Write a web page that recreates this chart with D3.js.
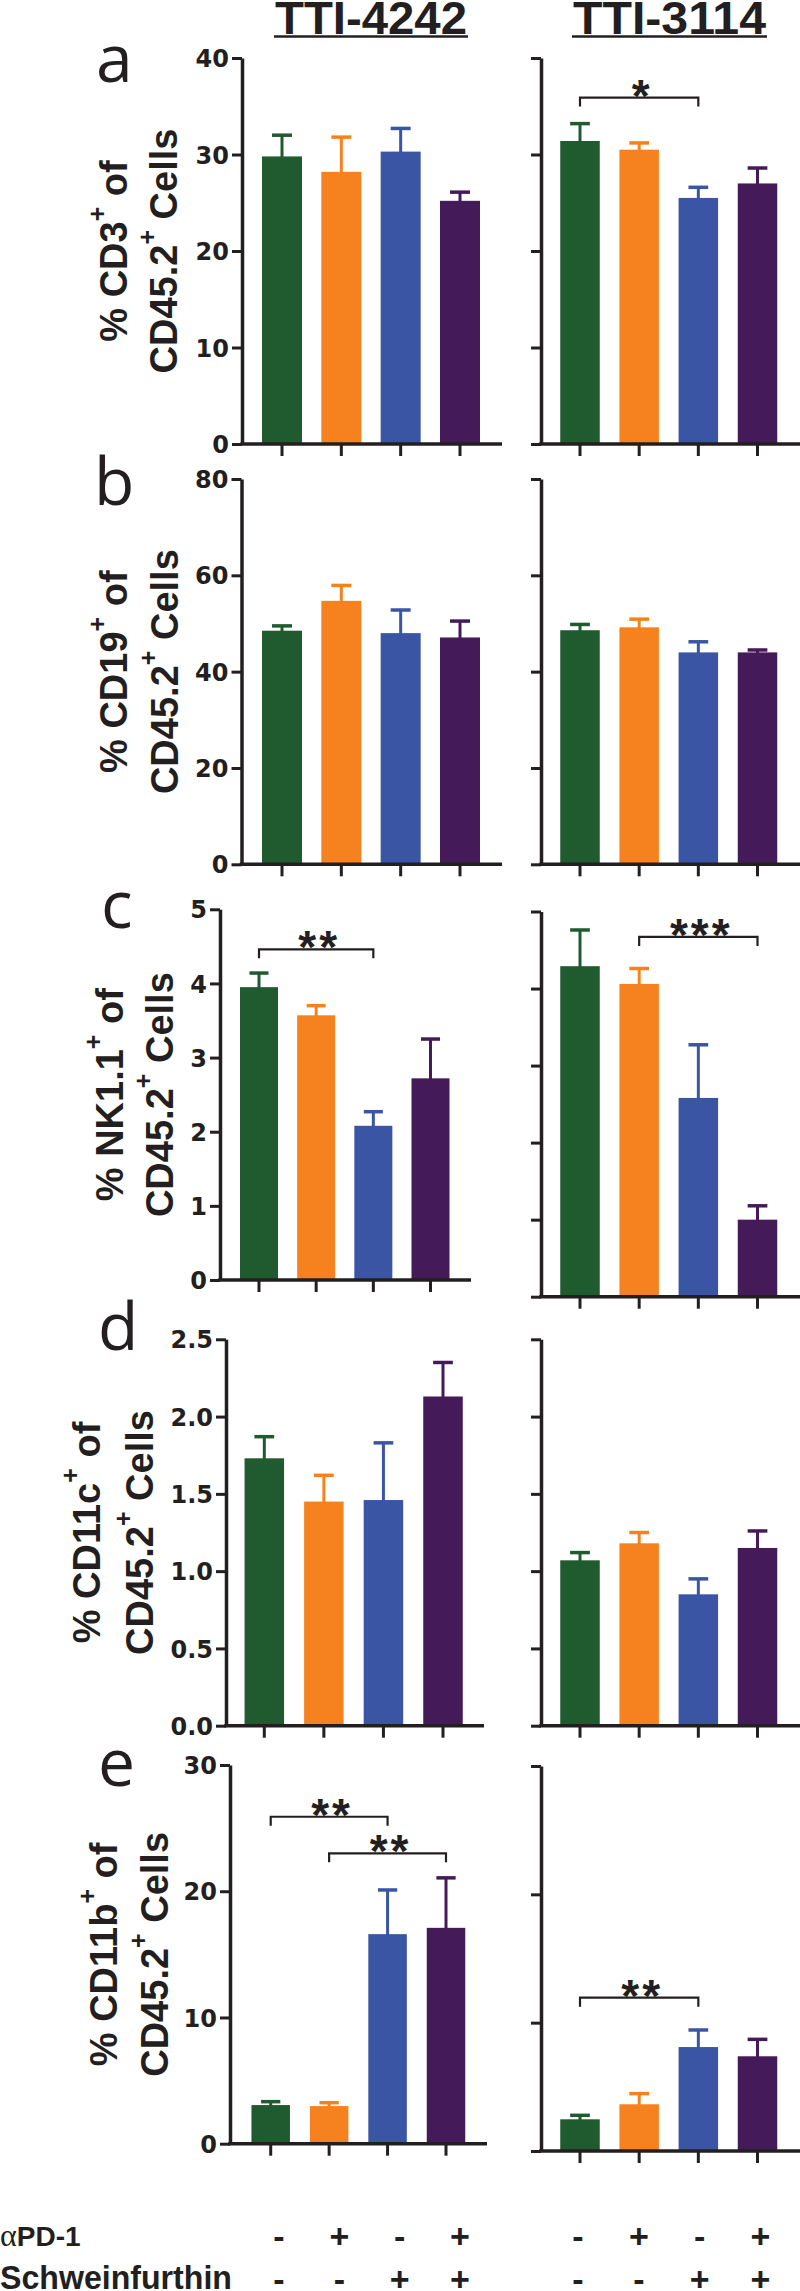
<!DOCTYPE html>
<html><head><meta charset="utf-8">
<script src="https://cdn.jsdelivr.net/npm/d3@7"></script>
<style>body{margin:0;background:#fff} svg{display:block} text{white-space:pre}</style>
</head><body>
<svg id="chart" width="800" height="2291"></svg>
<script>
// ---------------- DATA ----------------
const groups = ["Vehicle", "αPD-1", "Schweinfurthin", "αPD-1 + Schweinfurthin"];
const barColors = ["#1f5b2e", "#f6821f", "#3b55a5", "#451a59"];
const models = ["TTI-4242", "TTI-3114"];

// panel a: % CD3+ of CD45.2+ cells
const cd3_4242 = [29.8, 28.2, 30.3, 25.2];
const cd3_4242_sem = [2.2, 3.6, 2.4, 0.9];
const cd3_3114 = [31.4, 30.5, 25.5, 27.0];
const cd3_3114_sem = [1.8, 0.7, 1.1, 1.6];
// panel b: % CD19+
const cd19_4242 = [48.5, 54.7, 48.0, 47.1];
const cd19_4242_sem = [1.0, 3.2, 4.8, 3.4];
const cd19_3114 = [48.6, 49.2, 44.0, 44.0];
const cd19_3114_sem = [1.2, 1.7, 2.2, 0.5];
// panel c: % NK1.1+
const nk_4242 = [3.95, 3.57, 2.08, 2.72];
const nk_4242_sem = [0.19, 0.13, 0.19, 0.53];
const nk_3114 = [4.29, 4.06, 2.58, 1.00];
const nk_3114_sem = [0.47, 0.20, 0.69, 0.18];
// panel d: % CD11c+
const cd11c_4242 = [1.73, 1.45, 1.46, 2.13];
const cd11c_4242_sem = [0.14, 0.17, 0.37, 0.22];
const cd11c_3114 = [1.07, 1.18, 0.85, 1.15];
const cd11c_3114_sem = [0.05, 0.07, 0.10, 0.11];
// panel e: % CD11b+
const cd11b_4242 = [3.06, 2.98, 16.6, 17.1];
const cd11b_4242_sem = [0.27, 0.27, 3.5, 3.96];
const cd11b_3114 = [2.47, 3.64, 8.1, 7.38];
const cd11b_3114_sem = [0.31, 0.83, 1.33, 1.32];

// y tick values
const ticksA = [0, 10, 20, 30, 40];
const ticksB = [0, 20, 40, 60, 80];
const ticksC = [0, 1, 2, 3, 4, 5];
const ticksD = [0, 0.5, 1.0, 1.5, 2.0, 2.5];
const ticksE = [0, 10, 20, 30];

// significance brackets: from group index, to group index, height (data units), label
const sigA_3114 = [{from: 0, to: 2, at: 35.9, label: "*"}];
const sigC_4242 = [{from: 0, to: 2, at: 4.46, label: "**"}];
const sigC_3114 = [{from: 1, to: 3, at: 4.67, label: "***"}];
const sigE_4242 = [{from: 0, to: 2, at: 25.9, label: "**"}, {from: 1, to: 3, at: 23.0, label: "**"}];
const sigE_3114 = [{from: 0, to: 2, at: 11.95, label: "**"}];

// y axis titles
const markers = ["CD3", "CD19", "NK1.1", "CD11c", "CD11b"];
const panelLetters = ["a", "b", "c", "d", "e"];

// treatment table
const rowLabels = ["PD-1", "Schweinfurthin"];
const pd1Signs = ["-", "+", "-", "+"];
const schwSigns = ["-", "-", "+", "+"];

// ---------------- LAYOUT ----------------
const INK = "#231f20";
const svg = d3.select("#chart");

const leftLayout = [
  {ax: 242, c0: 282, c3: 460, xEnd: 502, yTop: 58, yZero: 444, bw: 40},
  {ax: 241.5, c0: 282, c3: 460, xEnd: 502, yTop: 479, yZero: 864.3, bw: 40},
  {ax: 220, c0: 259, c3: 430.5, xEnd: 471, yTop: 909.3, yZero: 1280, bw: 38},
  {ax: 226, c0: 264.3, c3: 443, xEnd: 484, yTop: 1339.3, yZero: 1725.7, bw: 39.5},
  {ax: 230, c0: 270.7, c3: 446, xEnd: 487, yTop: 1765, yZero: 2143.7, bw: 38.5}
];
const rightY = [[58, 444], [479, 864.3], [911.5, 1296.7], [1339.3, 1725.7], [1766, 2151]];
const labelPos = [ // [line1 baseline x, line2 baseline x, letter x, letter baseline]
  [127, 177, 96, 82], [127, 178, 94, 505], [123, 173, 101, 928], [100, 153, 98, 1350], [117, 168, 98, 1786]
];

const panels = [
  {ticks: ticksA, fmt: d3.format("d"), data: [[cd3_4242, cd3_4242_sem, []], [cd3_3114, cd3_3114_sem, sigA_3114]]},
  {ticks: ticksB, fmt: d3.format("d"), data: [[cd19_4242, cd19_4242_sem, []], [cd19_3114, cd19_3114_sem, []]]},
  {ticks: ticksC, fmt: d3.format("d"), data: [[nk_4242, nk_4242_sem, sigC_4242], [nk_3114, nk_3114_sem, sigC_3114]]},
  {ticks: ticksD, fmt: d3.format(".1f"), data: [[cd11c_4242, cd11c_4242_sem, []], [cd11c_3114, cd11c_3114_sem, []]]},
  {ticks: ticksE, fmt: d3.format("d"), data: [[cd11b_4242, cd11b_4242_sem, sigE_4242], [cd11b_3114, cd11b_3114_sem, sigE_3114]]}
];

function drawPanel(L, ticks, fmt, mean, sem, sigs, showLabels) {
  const g = svg.append("g");
  const step = (L.c3 - L.c0) / 3;
  const pad = 1 - L.bw / step;
  const x = d3.scaleBand().domain(groups).range([L.c0 - step / 2, L.c3 + step / 2])
    .paddingInner(pad).paddingOuter(pad / 2);
  const y = d3.scaleLinear().domain([0, d3.max(ticks)]).range([L.yZero, L.yTop]);
  const cx = i => x(groups[i]) + x.bandwidth() / 2;

  // error bars (stem starts at bar top)
  const eb = g.append("g");
  eb.selectAll("line.stem").data(mean).join("line")
    .attr("x1", (d, i) => cx(i)).attr("x2", (d, i) => cx(i))
    .attr("y1", d => y(d) + 2).attr("y2", (d, i) => y(d + sem[i]))
    .attr("stroke", (d, i) => barColors[i]).attr("stroke-width", 3);
  eb.selectAll("line.cap").data(mean).join("line")
    .attr("x1", (d, i) => cx(i) - x.bandwidth() / 4).attr("x2", (d, i) => cx(i) + x.bandwidth() / 4)
    .attr("y1", (d, i) => y(d + sem[i])).attr("y2", (d, i) => y(d + sem[i]))
    .attr("stroke", (d, i) => barColors[i]).attr("stroke-width", 3.5);

  // bars
  g.selectAll("rect.bar").data(mean).join("rect")
    .attr("x", (d, i) => x(groups[i])).attr("width", x.bandwidth())
    .attr("y", d => y(d)).attr("height", d => y(0) - y(d))
    .attr("fill", (d, i) => barColors[i]);

  // y axis
  const ya = d3.axisLeft(y).tickValues(ticks).tickSize(10).tickSizeOuter(0).tickPadding(3)
    .tickFormat(showLabels ? fmt : () => "");
  const yg = g.append("g").attr("transform", `translate(${L.ax},0)`).call(ya);
  yg.select(".domain").attr("stroke", INK).attr("stroke-width", 3.5);
  yg.selectAll(".tick line").attr("stroke", INK).attr("stroke-width", 3);
  yg.selectAll(".tick text").attr("fill", INK)
    .attr("font-family", "'DejaVu Sans', Verdana, sans-serif").attr("font-weight", "bold").attr("font-size", 24)
    .attr("dy", "0.36em");

  // x axis
  g.append("line").attr("x1", L.ax - 1.75).attr("x2", L.xEnd).attr("y1", y(0)).attr("y2", y(0))
    .attr("stroke", INK).attr("stroke-width", 3.5);
  const xa = d3.axisBottom(x).tickSize(12).tickSizeOuter(0).tickFormat(() => "");
  const xg = g.append("g").attr("transform", `translate(0,${y(0)})`).call(xa);
  xg.select(".domain").remove();
  xg.selectAll(".tick line").attr("stroke", INK).attr("stroke-width", 3);

  // significance brackets
  sigs.forEach(s => {
    const x1 = cx(s.from), x2 = cx(s.to), yy = y(s.at);
    g.append("path").attr("d", `M${x1},${yy + 9}V${yy}H${x2}V${yy + 9}`)
      .attr("fill", "none").attr("stroke", INK).attr("stroke-width", 2.2);
    g.append("text").attr("x", (x1 + x2) / 2 + 3).attr("y", yy + 14)
      .attr("text-anchor", "middle").attr("font-family", "'Liberation Sans', Arial, sans-serif")
      .attr("font-weight", "bold").attr("font-size", 46).attr("letter-spacing", 3)
      .attr("fill", INK).text(s.label);
  });
}

panels.forEach((p, k) => {
  const L = leftLayout[k];
  drawPanel(L, p.ticks, p.fmt, p.data[0][0], p.data[0][1], p.data[0][2], true);
  const R = {ax: 541, c0: 580, c3: 757.5, xEnd: 800, yTop: rightY[k][0], yZero: rightY[k][1], bw: 39.5};
  drawPanel(R, p.ticks, p.fmt, p.data[1][0], p.data[1][1], p.data[1][2], false);

  // y-axis title (two rotated lines)
  const cy = (L.yTop + L.yZero) / 2;
  const lp = labelPos[k];
  const mk = (bx, parts) => {
    const t = svg.append("text").attr("transform", `translate(${bx},${cy}) rotate(-90)`)
      .attr("text-anchor", "middle").attr("font-family", "'Liberation Sans', Arial, sans-serif")
      .attr("font-weight", "bold").attr("font-size", 38).attr("fill", INK);
    t.append("tspan").text(parts[0]);
    t.append("tspan").attr("font-size", 25).attr("dy", -21).text("+");
    t.append("tspan").attr("dy", 21).text(parts[1]);
  };
  mk(lp[0], ["% " + markers[k], " of"]);
  mk(lp[1], ["CD45.2", " Cells"]);

  // panel letter
  svg.append("text").attr("x", lp[2]).attr("y", lp[3])
    .attr("font-family", "'Open Sans', 'Noto Sans', sans-serif").attr("font-weight", 400)
    .attr("font-size", 66).attr("fill", INK).text(panelLetters[k]);
});

// column titles
const titleX = [[371, 194], [669.5, 195]];
models.forEach((m, i) => {
  svg.append("text").attr("x", titleX[i][0]).attr("y", 34).attr("text-anchor", "middle")
    .attr("font-family", "'Liberation Sans', Arial, sans-serif").attr("font-weight", "bold")
    .attr("font-size", 46).attr("textLength", titleX[i][1] - 2).attr("lengthAdjust", "spacingAndGlyphs")
    .attr("fill", INK).text(m);
  svg.append("line").attr("x1", titleX[i][0] - titleX[i][1] / 2).attr("x2", titleX[i][0] + titleX[i][1] / 2)
    .attr("y1", 36.5).attr("y2", 36.5).attr("stroke", INK).attr("stroke-width", 2.5);
});

// treatment table
const r1 = svg.append("text").attr("x", 0).attr("y", 2246).attr("fill", INK);
r1.append("tspan").attr("font-family", "'Liberation Serif', 'DejaVu Serif', serif").attr("font-size", 32).text("α");
r1.append("tspan").attr("font-family", "'Liberation Sans', Arial, sans-serif").attr("font-weight", "bold")
  .attr("font-size", 28).text(rowLabels[0]);
svg.append("text").attr("x", 0).attr("y", 2289).attr("fill", INK)
  .attr("font-family", "'Liberation Sans', Arial, sans-serif").attr("font-weight", "bold")
  .attr("font-size", 33).attr("textLength", 232).attr("lengthAdjust", "spacingAndGlyphs").text(rowLabels[1]);

const signCols = [d3.scalePoint().domain(groups).range([279, 460]), d3.scalePoint().domain(groups).range([578, 760.5])];
signCols.forEach(sx => {
  [[pd1Signs, 2248], [schwSigns, 2291]].forEach(([signs, by]) => {
    svg.append("g").selectAll("text").data(signs).join("text")
      .attr("x", (d, i) => sx(groups[i])).attr("y", by).attr("text-anchor", "middle")
      .attr("font-family", "'Liberation Sans', Arial, sans-serif").attr("font-weight", "bold")
      .attr("font-size", 34).attr("fill", INK).text(d => d);
  });
});
</script></body></html>
